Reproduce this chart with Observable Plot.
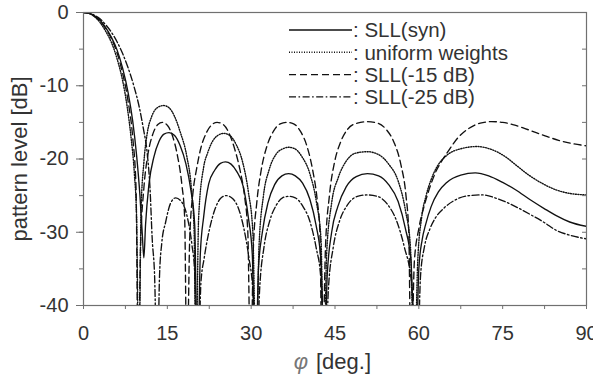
<!DOCTYPE html>
<html><head><meta charset="utf-8">
<script src="https://cdn.jsdelivr.net/npm/d3@7"></script>
<script src="https://cdn.jsdelivr.net/npm/@observablehq/plot@0.6"></script>
<style>
body{margin:0;background:#fff;}
#wrap{position:relative;width:593px;height:375px;overflow:hidden;background:#fff;}
</style></head><body><div id="wrap"></div>
<script>
// ---- data ----
const xTicks = [0, 15, 30, 45, 60, 75, 90];
const yTicks = [-40, -30, -20, -10, 0];
const xMinor = [0, 7.5, 15, 22.5, 30, 37.5, 45, 52.5, 60, 67.5, 75, 82.5, 90];
const yMinor = [-40, -35, -30, -25, -20, -15, -10, -5, 0];
const seriesNames = ["SLL(syn)", "uniform weights", "SLL(-15 dB)", "SLL(-25 dB)"];

// phi [deg], level [dB]  (nulls below -40 are clipped)
const synPts = [[0,0],[1,-0.1],[2,-0.5],[3,-1.1],[4,-2.1],[5,-3.4],[6,-5.1],[7,-7.6],[8,-11],[8.8,-14.8],[9.5,-19.5],[10.1,-25],[10.5,-30],[10.8,-33.5],[11.1,-29],[11.7,-23.5],[12.6,-19.7],[13.5,-17.6],[14.4,-16.6],[15.3,-16.4],[16.3,-16.8],[17.3,-18.2],[18.3,-20.6],[19.2,-24.2],[19.9,-29],[20.4,-50],
[20.9,-33],[21.5,-27.9],[22.4,-23.4],[23.5,-21.5],[24.5,-20.6],[25.4,-20.4],[26.4,-20.7],[27.4,-21.7],[28.6,-23.8],[29.5,-28],[30.2,-33],[30.8,-50],
[31.3,-35],[32,-30],[33,-26],[34.2,-23.5],[35.5,-22.3],[36.7,-22.0],[37.9,-22.3],[39.2,-23.3],[40.5,-25.5],[41.6,-29],[42.5,-34],[43.1,-50],
[43.6,-36],[44.4,-30],[45.5,-26.5],[47,-23.8],[48.8,-22.4],[50.8,-22.0],[52.8,-22.3],[54.6,-23.5],[56.3,-25.8],[57.6,-29.5],[58.6,-34],[59.4,-50],
[60,-35],[60.6,-31],[61.2,-29],[62.2,-26.5],[63.5,-24.5],[65,-23.2],[67.5,-22.2],[70.1,-21.9],[72.5,-22.3],[75,-23.2],[77.3,-24.2],[80,-25.6],[82.5,-26.8],[84.5,-27.7],[87,-28.6],[90,-29.2]];

const uniPts = [[0,0],[1,-0.1],[2,-0.6],[3,-1.4],[4,-2.6],[5,-4.1],[6,-6.3],[7,-9.3],[7.8,-12.8],[8.5,-17],[9.1,-22],[9.5,-28],[9.9,-50],
[10.3,-27],[10.8,-20.5],[11.4,-16.5],[12.2,-14.2],[13.2,-13.0],[14.3,-12.7],[15.3,-13.0],[16.3,-14.2],[17.3,-16.3],[18.5,-19.7],[19.3,-24],[19.8,-30],[20.1,-50],
[20.6,-28],[21.5,-21.1],[22.2,-19.2],[23,-17.7],[24,-16.8],[25.1,-16.5],[26.2,-16.8],[27.3,-18],[28.5,-20.5],[29.5,-24.5],[30.3,-30],[30.9,-50],
[31.4,-32],[32.2,-25],[33.2,-21.5],[34.5,-19.3],[35.7,-18.6],[36.7,-18.4],[37.8,-18.6],[39.1,-19.7],[40.5,-22],[41.7,-26],[42.5,-31],[43.0,-50],
[43.5,-33],[44.4,-26],[45.6,-22.5],[47,-20.3],[48.7,-19.2],[50.8,-19.0],[52.8,-19.4],[54.6,-20.7],[56.3,-23],[57.6,-27],[58.5,-32],[59.2,-50],
[59.8,-34],[60.5,-28],[61.3,-25],[62.2,-22.8],[63.3,-21],[65,-19.5],[67.5,-18.6],[70.4,-18.3],[73,-18.7],[75.5,-19.7],[77.5,-20.9],[79.5,-22.1],[82,-23.3],[84.5,-24.2],[87,-24.7],[90,-24.9]];

const m15Pts = [[0,0],[1,-0.1],[2,-0.5],[3,-1.2],[4,-2.2],[5,-3.6],[6,-5.5],[7,-8.3],[8,-12.2],[8.8,-17],[9.4,-24],[9.8,-50],
[10.2,-32],[10.8,-24],[11.5,-19.5],[12.4,-16.6],[13.3,-15.3],[14.1,-15.0],[15,-15.4],[15.9,-16.8],[16.8,-19.5],[17.6,-23.5],[18.1,-28],[18.5,-50],
[19,-31],[19.6,-24.5],[20.2,-21.5],[21,-18.5],[22,-16.4],[23,-15.3],[23.9,-15.0],[25,-15.3],[26,-16.4],[27,-18.5],[28,-21.5],[28.8,-25],[29.4,-30],[29.9,-50],
[30.4,-32],[31,-26],[31.8,-21.5],[32.8,-18.3],[34,-16.2],[35.2,-15.2],[36.4,-15.0],[37.6,-15.2],[38.8,-16.2],[40,-18.3],[41,-21.5],[41.8,-25.5],[42.3,-30],[42.7,-50],
[43.3,-32],[44,-25],[44.9,-20.5],[46,-17.7],[47.3,-15.9],[49,-15.1],[50.8,-14.9],[52.6,-15.1],[54.2,-16],[55.6,-17.8],[56.8,-20.8],[57.7,-25],[58.2,-30],[58.6,-50],
[59.2,-34],[60,-29.5],[61,-26.3],[62,-23.8],[63,-21.8],[64,-20.4],[65.2,-19.0],[67,-17.1],[69,-15.8],[71,-15.1],[73,-14.9],[75,-15.0],[77,-15.35],[79,-15.85],[81,-16.4],[83,-16.95],[85,-17.45],[87.5,-17.9],[90,-18.2]];

const m25Pts = [[0,0],[1,-0.1],[2,-0.4],[3,-0.9],[4,-1.7],[5,-2.7],[6,-4.0],[7,-5.6],[8,-7.6],[9,-10],[10,-13],[10.7,-15.8],[11.4,-19.2],[11.9,-24],[12.3,-31],[12.7,-35.5],[13.2,-50],
[13.6,-36],[14,-31.5],[14.7,-28.6],[15.6,-26],[16.5,-25.3],[17.5,-25.8],[18.5,-27.7],[19.4,-31.7],[19.9,-35.5],[20.5,-50],
[21,-37],[21.6,-33.5],[22.4,-30.1],[23.6,-26.7],[24.5,-25.4],[25.5,-25.0],[26.5,-25.3],[27.6,-26.5],[28.7,-29.5],[29.6,-33.5],[30.3,-38],[30.9,-50],
[31.5,-38],[32.3,-32],[33.3,-28.5],[34.5,-26.3],[35.6,-25.3],[36.7,-25.1],[37.9,-25.3],[39.2,-26.4],[40.5,-28.5],[41.6,-32],[42.5,-36.5],[43.2,-50],
[43.8,-38],[44.7,-32],[45.8,-28.5],[47.2,-26.3],[49,-25.1],[50.8,-24.9],[52.6,-25.1],[54.4,-26.2],[56,-28.4],[57.4,-32],[58.7,-37],[59.7,-50],
[60.3,-36],[61,-32],[62,-29.5],[63,-28],[64.5,-26.7],[66.5,-25.6],[69,-25],[71.3,-24.9],[74,-25.4],[77.3,-26.5],[80,-27.6],[82.5,-28.7],[84.5,-29.7],[87,-30.4],[90,-30.9]];

// ---- styling ----
const FONT = "'Liberation Sans', Arial, Helvetica, sans-serif";
const INK = "#111";
const dashes = ["none", "1,1.5", "7,4", "7,2.5,1.6,2.5"];
const widths = [1.35, 1.4, 1.35, 1.35];
const series = [synPts, uniPts, m15Pts, m25Pts].map((pts, i) => ({
  name: seriesNames[i], dash: dashes[i], width: widths[i],
  rows: pts.map(([phi, db]) => ({phi, db}))
}));

const plot = Plot.plot({
  width: 593, height: 375,
  marginLeft: 83, marginRight: 7, marginTop: 12, marginBottom: 70,
  x: {domain: [0, 90]},
  y: {domain: [-40, 0]},
  style: {fontFamily: FONT, fontSize: "20px", color: "#333", background: "white", overflow: "visible"},
  marks: [
    ...series.map(s => Plot.line(s.rows, {
      x: "phi", y: "db", curve: "monotone-x", clip: true,
      stroke: INK, strokeWidth: s.width, strokeDasharray: s.dash
    })),
    Plot.frame({stroke: "#707070", strokeWidth: 1.2}),
    Plot.axisX({ticks: xMinor, tickSize: 4, tickPadding: 16, stroke: "#707070",
      tickFormat: d => (d % 15 === 0 ? String(d) : ""), label: null}),
    Plot.axisY({ticks: yMinor, tickSize: 4, stroke: "#707070", tickFormat: () => "", label: null}),
    Plot.axisY({ticks: yTicks, tickSize: 7, tickPadding: 8, stroke: "#707070",
      tickFormat: d => String(d), label: null}),
    Plot.axisY({anchor: "right", ticks: yMinor, tickSize: 5, dx: -5, stroke: "#707070",
      tickFormat: () => "", label: null}),
    Plot.text(["pattern level [dB]"], {frameAnchor: "left", text: d => d, rotate: -90,
      dx: -64, fontSize: 22, fill: "#333", textAnchor: "middle", lineAnchor: "middle"}),
    Plot.text(["\u03C6"], {frameAnchor: "bottom", text: d => d, dx: -27, dy: 56,
      fontSize: 22, fontStyle: "italic", fill: "#777", textAnchor: "end", lineAnchor: "middle"}),
    Plot.text(["[deg.]"], {frameAnchor: "bottom", text: d => d, dx: -19, dy: 56,
      fontSize: 22, fill: "#333", textAnchor: "start", lineAnchor: "middle"})
  ]
});
const wrap = document.getElementById("wrap");
wrap.appendChild(plot);

// ---- legend (inside the plot, top right) ----
const leg = d3.select(wrap).append("svg")
  .attr("width", 593).attr("height", 375)
  .style("position", "absolute").style("left", "0px").style("top", "0px");
series.forEach((s, i) => {
  const y = 30 + i * 22.3;
  leg.append("line").attr("x1", 289).attr("x2", 352).attr("y1", y).attr("y2", y)
    .attr("stroke", INK).attr("stroke-width", s.width).attr("stroke-dasharray", s.dash);
  leg.append("text").attr("x", 353).attr("y", y).attr("dy", "0.36em")
    .attr("font-family", FONT).attr("font-size", 20.5).attr("fill", "#333")
    .text(": " + s.name);
});
</script></body></html>
